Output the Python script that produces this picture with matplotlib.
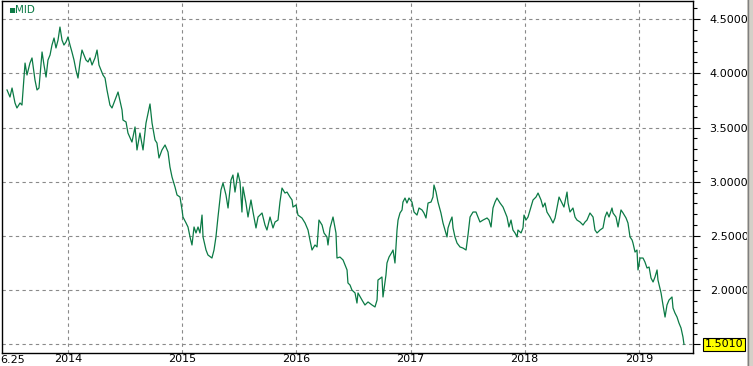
import matplotlib
matplotlib.use("Agg")
import matplotlib.pyplot as plt
import matplotlib.transforms as transforms
from matplotlib.ticker import MultipleLocator, FuncFormatter
from matplotlib.patches import Rectangle

# decimal-year dates and MID values
dates = [
    2013.463, 2013.489, 2013.507, 2013.533, 2013.550, 2013.577, 2013.594, 2013.621,
    2013.638, 2013.664, 2013.682, 2013.708, 2013.726, 2013.743, 2013.770, 2013.787,
    2013.805, 2013.822, 2013.840, 2013.857, 2013.875, 2013.892, 2013.910, 2013.927,
    2013.945, 2013.962, 2013.980, 2013.997, 2014.015, 2014.032, 2014.050, 2014.067,
    2014.085, 2014.103, 2014.120, 2014.138, 2014.155, 2014.173, 2014.190, 2014.208,
    2014.234, 2014.252, 2014.269, 2014.287, 2014.304, 2014.322, 2014.339, 2014.365,
    2014.383, 2014.409, 2014.436, 2014.471, 2014.479, 2014.506, 2014.523, 2014.558,
    2014.585, 2014.602, 2014.628, 2014.655, 2014.681, 2014.699, 2014.716, 2014.734,
    2014.760, 2014.777, 2014.795, 2014.821, 2014.848, 2014.874, 2014.891, 2014.909,
    2014.935, 2014.953, 2014.979, 2014.997, 2015.005, 2015.032, 2015.049, 2015.067,
    2015.084, 2015.102, 2015.119, 2015.137, 2015.154, 2015.172, 2015.181, 2015.207,
    2015.224, 2015.259, 2015.277, 2015.294, 2015.312, 2015.338, 2015.356, 2015.382,
    2015.400, 2015.426, 2015.443, 2015.461, 2015.487, 2015.505, 2015.522, 2015.531,
    2015.557, 2015.575, 2015.601, 2015.619, 2015.645, 2015.663, 2015.698, 2015.724,
    2015.741, 2015.768, 2015.794, 2015.812, 2015.838, 2015.855, 2015.873, 2015.899,
    2015.917, 2015.943, 2015.961, 2015.969, 2015.996, 2016.013, 2016.048, 2016.075,
    2016.101, 2016.118, 2016.136, 2016.162, 2016.180, 2016.197, 2016.224, 2016.241,
    2016.267, 2016.276, 2016.294, 2016.320, 2016.346, 2016.355, 2016.381, 2016.408,
    2016.425, 2016.443, 2016.451, 2016.469, 2016.486, 2016.513, 2016.530, 2016.539,
    2016.574, 2016.600, 2016.627, 2016.662, 2016.688, 2016.706, 2016.714, 2016.749,
    2016.758, 2016.784, 2016.793, 2016.811, 2016.837, 2016.846, 2016.863, 2016.881,
    2016.890, 2016.907, 2016.925, 2016.933, 2016.951, 2016.968, 2016.986, 2017.012,
    2017.030, 2017.056, 2017.074, 2017.100, 2017.117, 2017.135, 2017.153, 2017.179,
    2017.196, 2017.205, 2017.223, 2017.240, 2017.266, 2017.284, 2017.302, 2017.319,
    2017.328, 2017.345, 2017.363, 2017.372, 2017.389, 2017.407, 2017.433, 2017.459,
    2017.486, 2017.503, 2017.521, 2017.547, 2017.573, 2017.591, 2017.608, 2017.635,
    2017.670, 2017.687, 2017.705, 2017.722, 2017.740, 2017.757, 2017.784, 2017.810,
    2017.827, 2017.845, 2017.862, 2017.880, 2017.897, 2017.915, 2017.933, 2017.941,
    2017.968, 2017.985, 2017.994, 2018.011, 2018.029, 2018.055, 2018.073, 2018.099,
    2018.117, 2018.143, 2018.160, 2018.178, 2018.195, 2018.222, 2018.248, 2018.266,
    2018.283, 2018.301, 2018.327, 2018.344, 2018.371, 2018.380, 2018.397, 2018.423,
    2018.441, 2018.458, 2018.485, 2018.511, 2018.529, 2018.546, 2018.572, 2018.599,
    2018.616, 2018.634, 2018.660, 2018.686, 2018.704, 2018.721, 2018.739, 2018.765,
    2018.774, 2018.800, 2018.818, 2018.844, 2018.862, 2018.888, 2018.905, 2018.923,
    2018.941, 2018.949, 2018.967, 2018.984, 2018.993, 2019.011, 2019.037, 2019.054,
    2019.072, 2019.090, 2019.107, 2019.125, 2019.142, 2019.160, 2019.168, 2019.195,
    2019.212, 2019.230, 2019.247, 2019.265, 2019.291, 2019.300, 2019.317, 2019.335,
    2019.352, 2019.370, 2019.387, 2019.396,
]
mid = [
    3.846, 3.781, 3.864, 3.726, 3.680, 3.726, 3.707, 4.094,
    3.984, 4.094, 4.141, 3.938, 3.846, 3.864, 4.196, 4.076,
    3.965, 4.122, 4.168, 4.260, 4.325, 4.233, 4.306, 4.426,
    4.306, 4.260, 4.288, 4.334, 4.260, 4.196, 4.122, 4.030,
    3.956, 4.104, 4.214, 4.168, 4.122, 4.104, 4.141, 4.076,
    4.141, 4.214, 4.076, 4.030, 3.984, 3.956, 3.846, 3.707,
    3.680, 3.753, 3.827, 3.661, 3.569, 3.551, 3.449, 3.366,
    3.505, 3.293, 3.449, 3.293, 3.541, 3.634, 3.717, 3.541,
    3.385, 3.357, 3.219, 3.293, 3.339, 3.274, 3.136, 3.044,
    2.952, 2.878, 2.859, 2.740, 2.675, 2.620, 2.583, 2.491,
    2.417, 2.583, 2.528, 2.583, 2.528, 2.693, 2.491, 2.371,
    2.325, 2.297, 2.371, 2.491, 2.675, 2.924, 2.988, 2.878,
    2.758, 3.016, 3.062, 2.905, 3.081, 2.998, 2.721, 2.952,
    2.804, 2.675, 2.832, 2.721, 2.574, 2.675, 2.712, 2.601,
    2.555, 2.675, 2.574, 2.629, 2.647, 2.813, 2.942, 2.896,
    2.905, 2.859, 2.832, 2.767, 2.786, 2.693, 2.666, 2.620,
    2.555, 2.463, 2.371, 2.417, 2.399, 2.647, 2.601, 2.528,
    2.491, 2.417, 2.574, 2.675, 2.528, 2.297, 2.306, 2.279,
    2.233, 2.187, 2.067, 2.048, 2.002, 1.975, 1.882, 1.975,
    1.910, 1.864, 1.892, 1.864, 1.846, 1.910, 2.094, 2.122,
    1.938, 2.140, 2.251, 2.306, 2.352, 2.371, 2.251, 2.555,
    2.647, 2.712, 2.740, 2.813, 2.850, 2.804, 2.850, 2.813,
    2.721, 2.693, 2.758, 2.740, 2.712, 2.666, 2.804, 2.813,
    2.859, 2.970, 2.905, 2.813, 2.712, 2.620, 2.555, 2.491,
    2.574, 2.629, 2.675, 2.574, 2.491, 2.435, 2.399, 2.389,
    2.371, 2.509, 2.675, 2.721, 2.721, 2.675, 2.629, 2.647,
    2.666, 2.647, 2.583, 2.758, 2.813, 2.850, 2.804, 2.767,
    2.721, 2.675, 2.583, 2.647, 2.555, 2.528, 2.491, 2.555,
    2.528, 2.574, 2.693, 2.647, 2.675, 2.767, 2.832, 2.859,
    2.896, 2.832, 2.767, 2.804, 2.721, 2.675, 2.620, 2.666,
    2.758, 2.859, 2.804, 2.767, 2.905, 2.804, 2.721, 2.758,
    2.675, 2.647, 2.629, 2.601, 2.629, 2.647, 2.712, 2.675,
    2.555, 2.528, 2.555, 2.574, 2.675, 2.721, 2.675, 2.758,
    2.712, 2.675, 2.583, 2.740, 2.712, 2.666, 2.620, 2.491,
    2.463, 2.435, 2.352, 2.371, 2.187, 2.297, 2.297, 2.260,
    2.205, 2.214, 2.113, 2.076, 2.122, 2.187, 2.094, 1.975,
    1.864, 1.753, 1.864, 1.910, 1.938, 1.836, 1.790, 1.753,
    1.698, 1.652, 1.569, 1.501,
]
year_ticks = [2014, 2015, 2016, 2017, 2018, 2019]
year_labels = ["2014", "2015", "2016", "2017", "2018", "2019"]
start_label = "6.25"
series_name = "MID"
last_value = mid[-1]

line_color = "#0b7a45"
grid_color = "#8a8a8a"

fig = plt.figure(figsize=(7.53, 3.66), dpi=100)
fig.patch.set_facecolor("white")
ax = fig.add_axes([2 / 753, 1 - 353 / 366, 691 / 753, 352 / 366])

ax.plot(dates, mid, color=line_color, lw=0.9)

ax.set_xlim(2013.419, 2019.475)
ax.set_ylim(1.4216, 4.666)

# right-hand price scale
ax.yaxis.tick_right()
ax.yaxis.set_major_locator(MultipleLocator(0.5))
ax.yaxis.set_minor_locator(MultipleLocator(0.1))
ax.yaxis.set_major_formatter(FuncFormatter(lambda v, p: "" if abs(v - 1.5) < 1e-6 else f"{v:.4f}"))
ax.tick_params(axis="y", which="major", length=5, width=0.8, pad=7,
               labelsize=8, colors="black", direction="out")
ax.tick_params(axis="y", which="minor", length=3, width=0.8, direction="out")

ax.set_xticks(year_ticks)
ax.set_xticklabels(year_labels)
ax.tick_params(axis="x", length=0, pad=1, labelsize=8)

ax.grid(True, which="major", color=grid_color, linestyle=(0, (3, 3)), lw=0.8)

for s in ax.spines.values():
    s.set_color("black")
    s.set_linewidth(1.0)

# start date label at the left edge
trans = transforms.blended_transform_factory(ax.transAxes, ax.transAxes)
ax.text(-0.002, -0.006, start_label, transform=trans, ha="left", va="top",
        fontsize=8, color="black")

# legend marker
ax.text(0.008, 0.99, "\u25aa" + series_name, transform=ax.transAxes, ha="left", va="top",
        fontsize=7.5, color=line_color)

# highlighted last value
ax.text(1.017, last_value, f"{last_value:.4f}",
        transform=transforms.blended_transform_factory(ax.transAxes, ax.transData),
        ha="left", va="center", fontsize=8, color="black",
        bbox=dict(boxstyle="square,pad=0.15", facecolor="#ffff00", edgecolor="black", lw=0.8))

# grey window strip on the right
fig.patches.append(Rectangle((747 / 753, 0), 6 / 753, 1, transform=fig.transFigure,
                             facecolor="#d4d0c8", edgecolor="none", zorder=0))
fig.lines.append(plt.Line2D([747.5 / 753, 747.5 / 753], [0, 1], transform=fig.transFigure,
                            color="#808080", lw=1))

fig.savefig("out.png", dpi=100)
